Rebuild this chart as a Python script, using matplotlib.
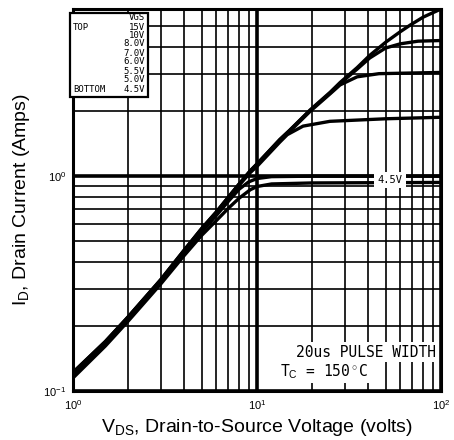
import matplotlib
matplotlib.use("Agg")
import matplotlib.pyplot as plt
from matplotlib.ticker import LogLocator, NullFormatter, FixedLocator

# ---- data ----
vds_15v = [1, 1.5, 2, 3, 4, 5, 6, 7, 8, 9.2, 10, 13.3, 15, 19.4, 25, 28.3, 35, 41, 50, 60, 68, 80, 100]
id_15v = [0.122, 0.17, 0.222, 0.33, 0.45, 0.57, 0.68, 0.80, 0.92, 1.06, 1.14, 1.48, 1.63, 2.03, 2.46, 2.73, 3.2, 3.65, 4.2, 4.7, 5.05, 5.5, 6.0]

vds_10v = [1, 1.5, 2, 3, 4, 5, 6, 7, 8, 9.2, 10, 13.3, 15, 19.4, 25, 28.3, 35, 41, 50, 60, 75, 100]
id_10v = [0.122, 0.17, 0.222, 0.33, 0.45, 0.57, 0.68, 0.80, 0.92, 1.06, 1.14, 1.48, 1.63, 2.02, 2.44, 2.70, 3.15, 3.55, 3.95, 4.13, 4.25, 4.28]

vds_8v = [1, 1.5, 2, 3, 4, 5, 6, 7, 8, 9.2, 10, 13.3, 15, 19.4, 25, 28.3, 35, 46, 100]
id_8v = [0.12, 0.168, 0.22, 0.326, 0.445, 0.563, 0.672, 0.79, 0.91, 1.05, 1.13, 1.46, 1.61, 2.0, 2.42, 2.66, 2.9, 3.0, 3.04]

vds_7v = [1, 1.5, 2, 3, 4, 5, 6, 7, 8, 9.2, 10, 13.3, 14.6, 17.8, 24.9, 50, 100]
id_7v = [0.12, 0.168, 0.22, 0.326, 0.445, 0.563, 0.672, 0.79, 0.91, 1.04, 1.11, 1.44, 1.56, 1.71, 1.80, 1.85, 1.88]

vds_55v = [1, 1.5, 2, 3, 4, 5, 6, 7, 8, 9, 10, 12, 20, 100]
id_55v = [0.118, 0.165, 0.216, 0.32, 0.437, 0.55, 0.655, 0.765, 0.87, 0.94, 0.975, 0.995, 1.0, 1.0]

vds_45v = [1, 1.5, 2, 3, 4, 5, 6, 7, 8, 9.2, 10, 12, 20, 100]
id_45v = [0.115, 0.162, 0.212, 0.315, 0.425, 0.53, 0.62, 0.71, 0.79, 0.865, 0.895, 0.92, 0.93, 0.935]

legend_levels = ["15V", "10V", "8.0V", "7.0V", "6.0V", "5.5V", "5.0V", "4.5V"]
x_ticks = [1, 10, 100]
x_tick_labels = [r"$10^{0}$", r"$10^{1}$", r"$10^{2}$"]
y_ticks = [0.1, 1]
y_tick_labels = [r"$10^{-1}$", r"$10^{0}$"]

plt.rcParams['font.family'] = ['Liberation Sans', 'DejaVu Sans']
plt.rcParams['mathtext.fontset'] = 'custom'
plt.rcParams['mathtext.rm'] = 'Liberation Sans'
plt.rcParams['mathtext.it'] = 'Liberation Sans'

W, H = 454, 440
fig = plt.figure(figsize=(W / 100, H / 100), dpi=100)
L, R, T, B = 73, 441, 9, 391
ax = fig.add_axes([L / W, 1 - B / H, (R - L) / W, (B - T) / H])
ax.set_xscale('log')
ax.set_yscale('log')
ax.set_xlim(1, 100)
ax.set_ylim(0.1, 6.0)

def ay(py):
    return (B - py) / (B - T)

def axx(px):
    return (px - L) / (R - L)

# grid
ax.xaxis.set_minor_locator(LogLocator(base=10, subs=range(2, 10)))
ax.yaxis.set_minor_locator(LogLocator(base=10, subs=range(2, 10)))
ax.xaxis.set_minor_formatter(NullFormatter())
ax.yaxis.set_minor_formatter(NullFormatter())
ax.grid(True, which='minor', color='black', linewidth=1.2)
ax.grid(True, which='major', color='black', linewidth=2.6)
ax.set_axisbelow(True)

for xs, ys in [(vds_15v, id_15v), (vds_10v, id_10v), (vds_8v, id_8v),
               (vds_7v, id_7v), (vds_55v, id_55v), (vds_45v, id_45v)]:
    ax.plot(xs, ys, color='black', linewidth=2.4, solid_capstyle='butt',
            solid_joinstyle='round', zorder=3)

ax.xaxis.set_major_locator(FixedLocator(x_ticks))
ax.set_xticklabels(x_tick_labels, fontsize=8)
ax.yaxis.set_major_locator(FixedLocator(y_ticks))
ax.set_yticklabels(y_tick_labels, fontsize=8)
ax.tick_params(which='both', direction='in', length=0, pad=5)
for s in ax.spines.values():
    s.set_linewidth(2.2)

ax.set_xlabel(r"V$_{\mathrm{DS}}$, Drain-to-Source Voltage (volts)", fontsize=14, labelpad=4)
ax.set_ylabel(r"I$_{\mathrm{D}}$, Drain Current (Amps)", fontsize=14, labelpad=8)

# legend box
mono = dict(family='DejaVu Sans Mono', fontsize=6.5, color='black')
ax.add_patch(plt.Rectangle((axx(70), ay(97)), axx(148) - axx(70), ay(13) - ay(97),
                           transform=ax.transAxes, clip_on=False,
                           facecolor='white', edgecolor='black', linewidth=1.6, zorder=5))
ax.text(axx(145), ay(18), "VGS", transform=ax.transAxes, ha='right', va='center', zorder=6, **mono)
rows_y = [27, 35, 44, 53, 62, 71, 80, 89]
for lab, py in zip(legend_levels, rows_y):
    ax.text(axx(145), ay(py), lab, transform=ax.transAxes, ha='right', va='center', zorder=6, **mono)
ax.text(axx(73), ay(rows_y[0]), "TOP", transform=ax.transAxes, ha='left', va='center', zorder=6, **mono)
ax.text(axx(73), ay(rows_y[-1]), "BOTTOM", transform=ax.transAxes, ha='left', va='center', zorder=6, **mono)

# curve label
ax.text(axx(390), ay(180), "4.5V", transform=ax.transAxes, ha='center', va='center',
        fontsize=7.5, family='DejaVu Sans Mono',
        bbox=dict(facecolor='white', edgecolor='none', pad=2.5), zorder=6)

ax.text(axx(436), ay(352), "20us PULSE WIDTH", transform=ax.transAxes, ha='right', va='center',
        fontsize=10.5, family='DejaVu Sans Mono',
        bbox=dict(facecolor='white', edgecolor='none', pad=1.5), zorder=6)
ax.text(axx(280), ay(372), r"T$_\mathrm{C}$ = 150$^\circ$C", transform=ax.transAxes, ha='left', va='center',
        fontsize=10.5, family='DejaVu Sans Mono',
        bbox=dict(facecolor='white', edgecolor='none', pad=1.5), zorder=6)

fig.savefig("out.png", dpi=100)
